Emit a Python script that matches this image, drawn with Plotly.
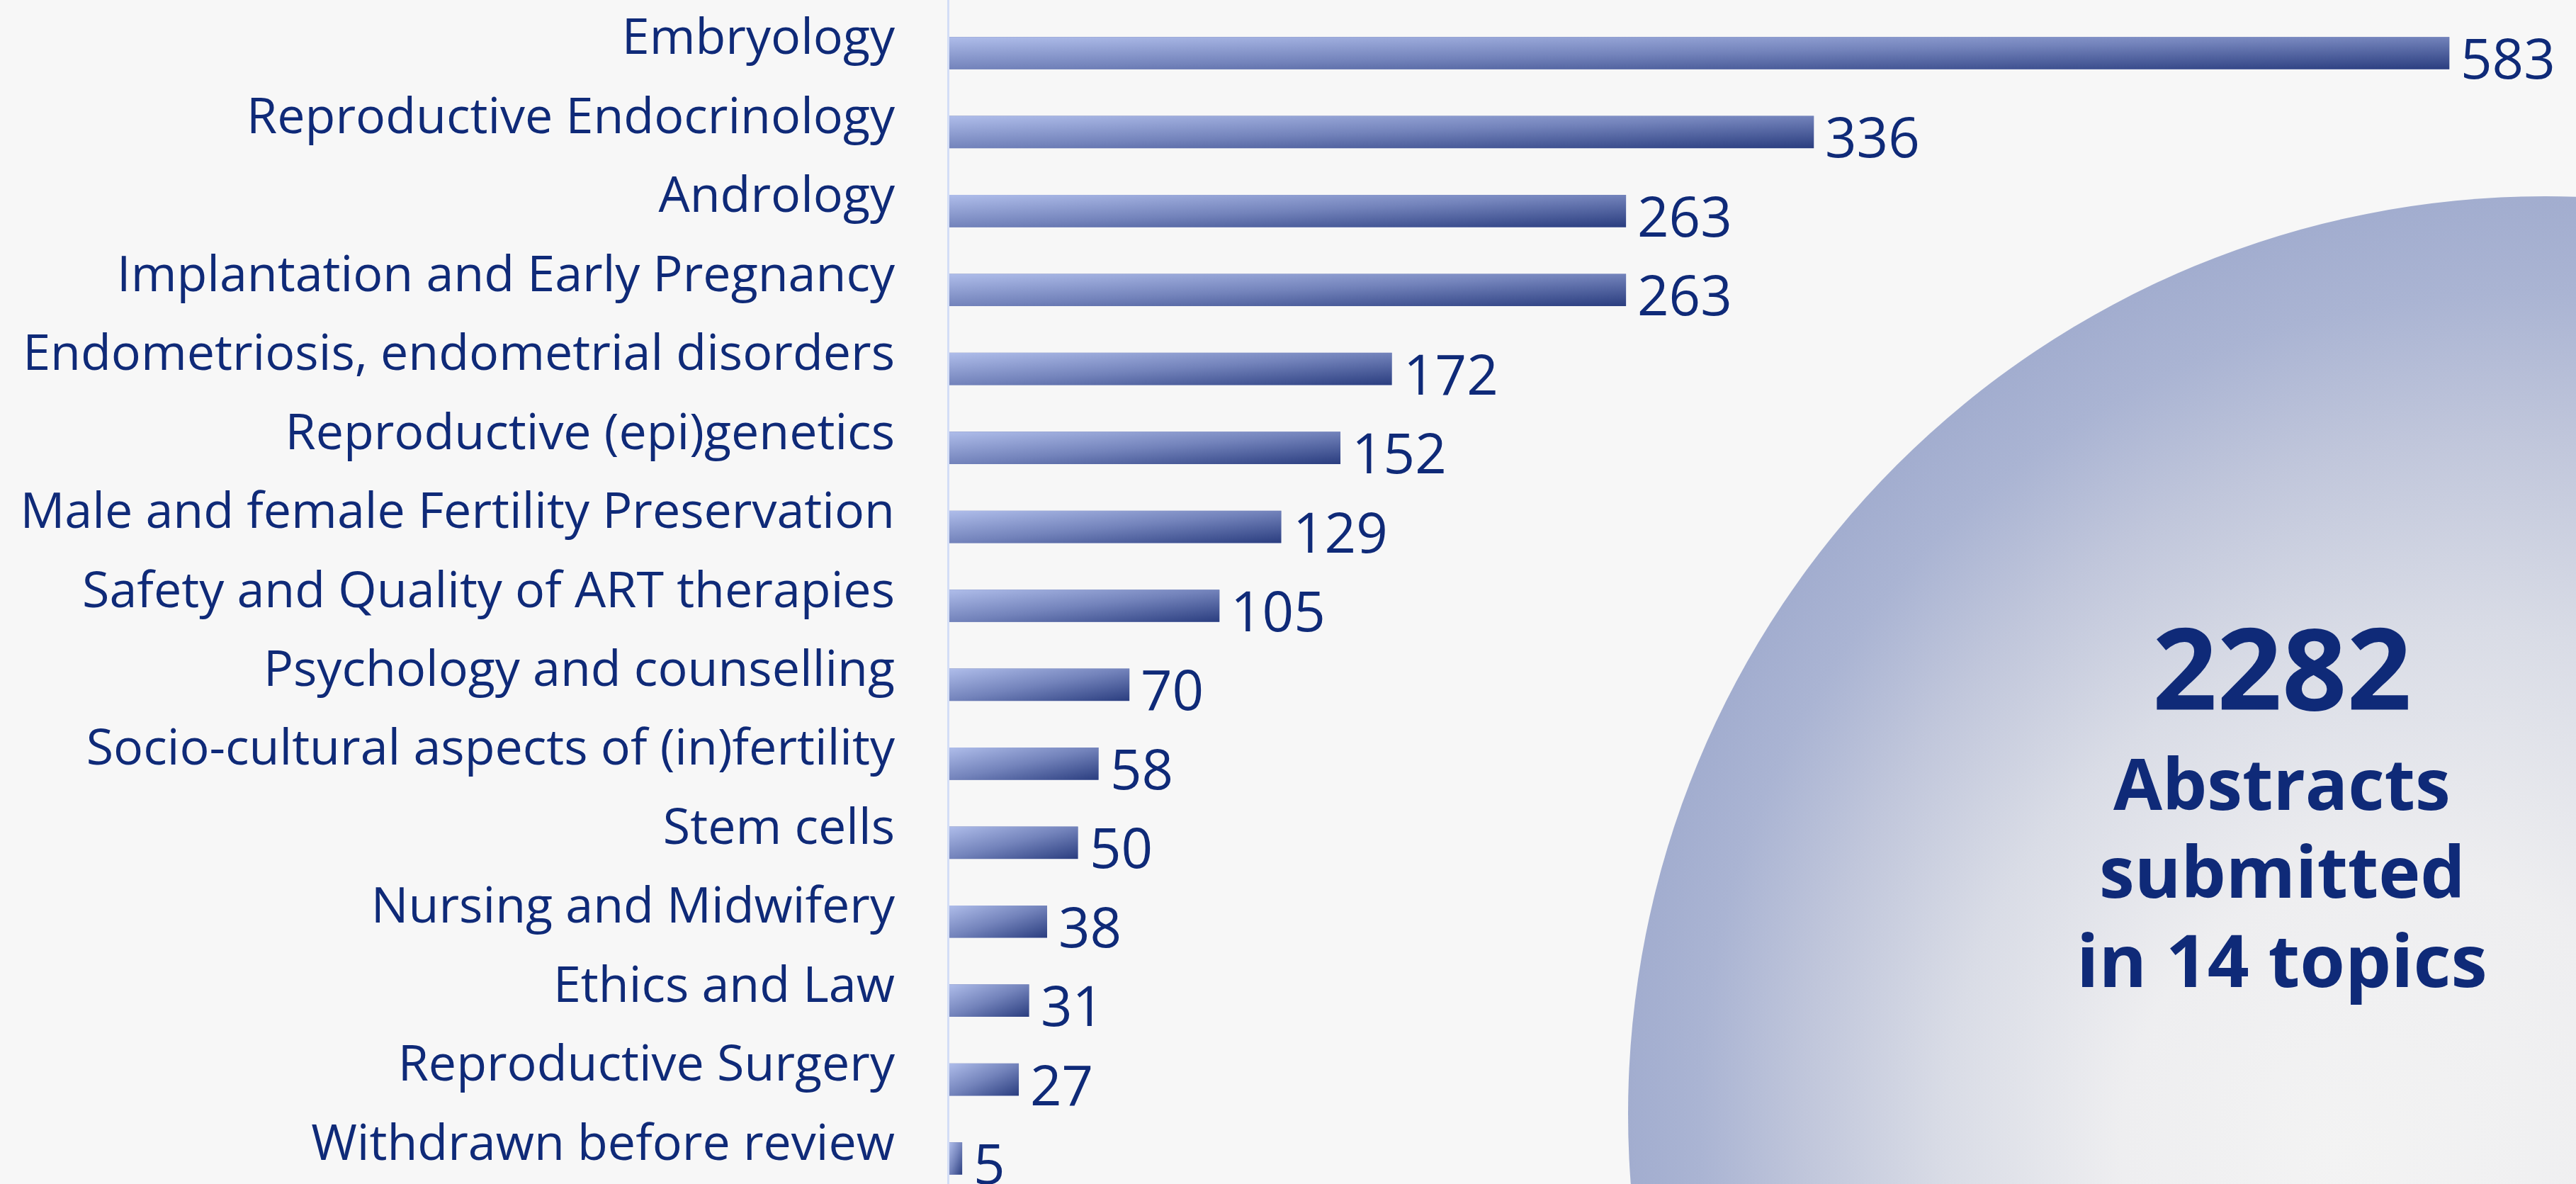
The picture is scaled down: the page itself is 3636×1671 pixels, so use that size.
import base64
import plotly.graph_objects as go

# ---------------- data ----------------
categories = [
    "Embryology",
    "Reproductive Endocrinology",
    "Andrology",
    "Implantation and Early Pregnancy",
    "Endometriosis, endometrial disorders",
    "Reproductive (epi)genetics",
    "Male and female Fertility Preservation",
    "Safety and Quality of ART therapies",
    "Psychology and counselling",
    "Socio-cultural aspects of (in)fertility",
    "Stem cells",
    "Nursing and Midwifery",
    "Ethics and Law",
    "Reproductive Surgery",
    "Withdrawn before review",
]
values = [583, 336, 263, 263, 172, 152, 129, 105, 70, 58, 50, 38, 31, 27, 5]
total_text = "2282"
caption_lines = ["Abstracts", "submitted", "in 14 topics"]

# ---------------- styling ----------------
W, H = 3636, 1671
LEFT = 1340
PLOT_W = W - LEFT
NAVY = "#0f2a78"
BG = "#f7f7f7"
FONT = "Open Sans, Noto Sans, sans-serif"
BAR_W = 0.41
positions = list(range(len(categories)))


def svg_uri(svg):
    return "data:image/svg+xml;base64," + base64.b64encode(svg.encode("utf-8")).decode("ascii")


bar_svg = svg_uri(
    '<svg xmlns="http://www.w3.org/2000/svg" width="200" height="100" viewBox="0 0 200 100" '
    'preserveAspectRatio="none"><defs><linearGradient id="g" x1="0" y1="0" x2="1" y2="1">'
    '<stop offset="0" stop-color="#afbdea"/><stop offset="0.5" stop-color="#7383bb"/>'
    '<stop offset="1" stop-color="#2a3d7f"/></linearGradient></defs>'
    '<rect x="0" y="0" width="200" height="100" fill="url(#g)"/></svg>'
)

# big decorative circle (in plot-area pixel coordinates)
cx, cy, r = 3593 - LEFT, 1572, 1295
circle_svg = svg_uri(
    f'<svg xmlns="http://www.w3.org/2000/svg" width="{PLOT_W}" height="{H}" viewBox="0 0 {PLOT_W} {H}" '
    f'preserveAspectRatio="none"><defs><radialGradient id="c" gradientUnits="userSpaceOnUse" '
    f'cx="{cx}" cy="{cy}" r="{r}" fx="{cx-300}" fy="{cy+60}">'
    '<stop offset="0" stop-color="#f3f3f3"/><stop offset="0.3" stop-color="#eeeef0"/>'
    '<stop offset="0.55" stop-color="#d9dce6"/><stop offset="0.75" stop-color="#c0c6db"/>'
    '<stop offset="0.9" stop-color="#aab4d3"/><stop offset="1" stop-color="#a2adcf"/>'
    f'</radialGradient></defs><circle cx="{cx}" cy="{cy}" r="{r}" fill="url(#c)"/></svg>'
)

fig = go.Figure()
fig.add_trace(
    go.Bar(
        x=values,
        y=positions,
        orientation="h",
        width=BAR_W,
        marker=dict(color="#6f7fb8", line=dict(width=0)),
        hoverinfo="skip",
    )
)

images = [
    dict(
        source=circle_svg, xref="paper", yref="paper", x=0, y=1, sizex=1, sizey=1,
        xanchor="left", yanchor="top", sizing="stretch", layer="below",
    )
]
for v, p in zip(values, positions):
    images.append(
        dict(
            source=bar_svg, xref="x", yref="y", x=0, y=p, sizex=v, sizey=BAR_W,
            xanchor="left", yanchor="middle", sizing="stretch", layer="above",
        )
    )

annotations = []
for v, p in zip(values, positions):
    annotations.append(
        dict(
            x=v, y=p, xref="x", yref="y", text=str(v), showarrow=False,
            xanchor="left", yanchor="middle", xshift=14, yshift=-6,
            font=dict(family=FONT, size=78, color=NAVY),
        )
    )

cx_paper = (3221 - LEFT) / PLOT_W
annotations.append(
    dict(x=cx_paper, y=1 - 940 / H, xref="paper", yref="paper", text=f"<b>{total_text}</b>",
         showarrow=False, xanchor="center", yanchor="middle",
         font=dict(family=FONT, size=160, color=NAVY))
)
for line, yc, fs in zip(caption_lines, [1104, 1228, 1353], [100, 100, 103]):
    annotations.append(
        dict(x=cx_paper, y=1 - yc / H, xref="paper", yref="paper", text=f"<b>{line}</b>",
             showarrow=False, xanchor="center", yanchor="middle",
             font=dict(family=FONT, size=fs, color=NAVY))
    )

fig.update_layout(
    width=W,
    height=H,
    margin=dict(l=LEFT, r=0, t=0, b=0, pad=0),
    paper_bgcolor=BG,
    plot_bgcolor="rgba(0,0,0,0)",
    showlegend=False,
    images=images,
    annotations=annotations,
    xaxis=dict(range=[0, 632.2], visible=False, fixedrange=True),
    yaxis=dict(
        range=[14.323, -0.673],
        tickmode="array",
        tickvals=positions,
        ticktext=categories,
        showline=True,
        linecolor="#d3ddf6",
        linewidth=3,
        ticks="",
        showgrid=False,
        zeroline=False,
        ticklabelstandoff=60,
        ticklabelshift=23,
        tickfont=dict(family=FONT, size=70, color=NAVY),
        fixedrange=True,
    ),
)

fig.write_html(
    "out.html",
    config={"displayModeBar": False},
    post_script="document.body.style.margin='0';document.body.style.background='#f7f7f7';",
)
